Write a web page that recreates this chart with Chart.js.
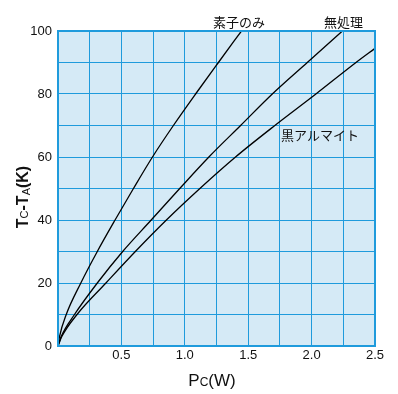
<!DOCTYPE html>
<html>
<head>
<meta charset="utf-8">
<script src="https://cdn.jsdelivr.net/npm/chart.js@4.4.0/dist/chart.umd.min.js"></script>
<style>
  html, body { margin: 0; padding: 0; background: #fff; }
  #wrap { width: 398px; height: 394px; }
</style>
</head>
<body>
<div id="wrap"><canvas id="chart" width="398" height="394"></canvas></div>
<script>
// Power dissipation Pc (W) vs temperature rise Tc-Ta (K)
const seriesNames = ['素子のみ', '無処理', '黒アルマイト'];

const elementOnlyP = [0, 0.012, 0.065, 0.18, 0.31, 0.45, 0.595, 0.745, 0.91, 1.085, 1.265, 1.447];
const elementOnlyT = [0, 3, 10, 20, 30, 40, 50, 60, 70, 80, 90, 100];

const untreatedP = [0, 0.025, 0.13, 0.31, 0.51, 0.735, 0.96, 1.19, 1.44, 1.69, 1.966, 2.243];
const untreatedT = [0, 3, 10, 20, 30, 40, 50, 60, 70, 80, 90, 100];

const blackAlumiteP = [0, 0.03, 0.15, 0.378, 0.61, 0.855, 1.119, 1.40, 1.71, 2.034, 2.35, 2.5];
const blackAlumiteT = [0, 3, 10, 20, 30, 40, 50, 60, 70, 80, 90, 94.5];

const xTickLabels = ['0.5', '1.0', '1.5', '2.0', '2.5'];
const yTickLabels = ['0', '20', '40', '60', '80', '100'];

const GRID_COLOR = '#1f9bdc';
const PLOT_BG = '#d5eaf6';
const TEXT_COLOR = '#111';

function toPoints(xs, ys) {
    return xs.map((x, i) => ({ x: x, y: ys[i] }));
}

function makeDataset(label, xs, ys) {
    return {
        label: label,
        data: toPoints(xs, ys),
        borderColor: '#000',
        borderWidth: 1.3,
        pointRadius: 0,
        fill: false,
        cubicInterpolationMode: 'monotone'
    };
}

// draws a run of text pieces, some of them as small subscripts
function drawRich(ctx, parts, x, y) {
    let total = 0;
    parts.forEach(p => {
        ctx.font = p.font;
        total += ctx.measureText(p.t).width;
    });
    let cx = x - total / 2;
    ctx.textAlign = 'left';
    ctx.textBaseline = 'alphabetic';
    parts.forEach(p => {
        ctx.font = p.font;
        ctx.fillText(p.t, cx, y + (p.dy || 0));
        cx += ctx.measureText(p.t).width;
    });
}

const decorPlugin = {
    id: 'decor',
    beforeDraw(chart) {
        const { ctx, chartArea } = chart;
        ctx.save();
        ctx.fillStyle = PLOT_BG;
        ctx.fillRect(chartArea.left, chartArea.top, chartArea.right - chartArea.left, chartArea.bottom - chartArea.top);
        ctx.restore();
    },
    afterDraw(chart) {
        const { ctx, chartArea } = chart;
        ctx.save();
        ctx.fillStyle = TEXT_COLOR;

        // curve labels
        ctx.font = '13px "Noto Sans CJK JP"';
        ctx.textAlign = 'left';
        ctx.textBaseline = 'middle';
        ctx.fillText(seriesNames[0], 213, 22);
        ctx.fillText(seriesNames[1], 324, 22);
        ctx.fillText(seriesNames[2], 281, 135);

        // x axis title: Pc(W)
        const big = '17px "Liberation Sans"';
        const small = '12px "Liberation Sans"';
        drawRich(ctx, [
            { t: 'P', font: big },
            { t: 'C', font: small },
            { t: '(W)', font: big }
        ], 212, 386);

        // y axis title: Tc-TA(K), rotated
        ctx.translate(28, 197);
        ctx.rotate(-Math.PI / 2);
        const bigB = 'bold 16px "Liberation Sans"';
        const smallB = '11px "Liberation Sans"';
        drawRich(ctx, [
            { t: 'T', font: bigB },
            { t: 'C', font: smallB, dy: 0 },
            { t: '-T', font: bigB },
            { t: 'A', font: smallB, dy: 2 },
            { t: '(K)', font: bigB }
        ], 0, 0);
        ctx.restore();

        // thicker frame around the plot
        ctx.save();
        ctx.strokeStyle = GRID_COLOR;
        ctx.lineWidth = 2;
        ctx.strokeRect(chartArea.left, chartArea.top, chartArea.right - chartArea.left, chartArea.bottom - chartArea.top);
        ctx.restore();
    }
};

new Chart(document.getElementById('chart'), {
    type: 'line',
    data: {
        datasets: [
            makeDataset(seriesNames[0], elementOnlyP, elementOnlyT),
            makeDataset(seriesNames[1], untreatedP, untreatedT),
            makeDataset(seriesNames[2], blackAlumiteP, blackAlumiteT)
        ]
    },
    options: {
        responsive: false,
        animation: false,
        layout: { padding: { top: 31, right: 23, left: 0, bottom: 0 } },
        plugins: {
            legend: { display: false },
            tooltip: { enabled: false }
        },
        scales: {
            x: {
                type: 'linear',
                min: 0,
                max: 2.5,
                afterFit: (scale) => { scale.height = 48; },
                ticks: {
                    stepSize: 0.25,
                    autoSkip: false,
                    maxRotation: 0,
                    padding: 2,
                    color: TEXT_COLOR,
                    font: { family: 'Liberation Sans', size: 13 },
                    callback: (v) => {
                        const s = Number(v).toFixed(1);
                        return xTickLabels.includes(s) && Math.abs(v * 2 - Math.round(v * 2)) < 1e-6 ? s : '';
                    }
                },
                grid: { color: GRID_COLOR, lineWidth: 1, drawTicks: false },
                border: { display: false }
            },
            y: {
                min: 0,
                max: 100,
                afterFit: (scale) => { scale.width = 58; },
                ticks: {
                    stepSize: 10,
                    autoSkip: false,
                    padding: 6,
                    color: TEXT_COLOR,
                    font: { family: 'Liberation Sans', size: 13 },
                    callback: (v) => yTickLabels.includes(String(v)) ? String(v) : ''
                },
                grid: { color: GRID_COLOR, lineWidth: 1, drawTicks: false },
                border: { display: false }
            }
        }
    },
    plugins: [decorPlugin]
});
</script>
</body>
</html>
